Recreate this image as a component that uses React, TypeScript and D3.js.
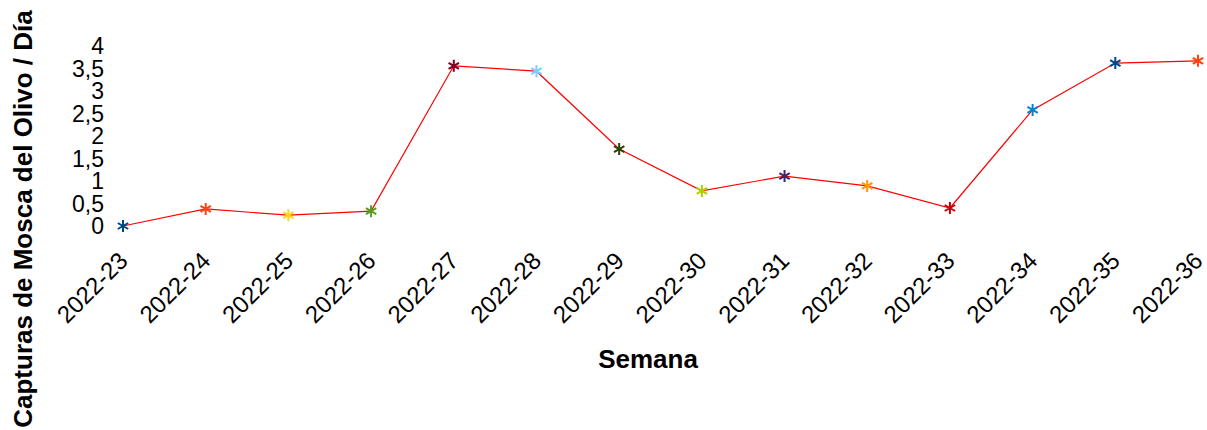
import { useEffect, useRef } from "react"
import * as d3 from "d3"

const weeks = [
  "2022-23", "2022-24", "2022-25", "2022-26", "2022-27", "2022-28", "2022-29",
  "2022-30", "2022-31", "2022-32", "2022-33", "2022-34", "2022-35", "2022-36",
]
const captures = [0, 0.38, 0.24, 0.33, 3.56, 3.44, 1.71, 0.78, 1.11, 0.89, 0.4, 2.58, 3.62, 3.67]
const markerColors = [
  "#004586", "#ff420e", "#ffd320", "#579d1c", "#7e0021", "#83caff", "#314004",
  "#aecf00", "#4b1f6f", "#ff950e", "#c5000b", "#0084d1", "#004586", "#ff420e",
]
const yTicks = [0, 0.5, 1, 1.5, 2, 2.5, 3, 3.5, 4]

export default function App() {
  const ref = useRef<SVGSVGElement>(null)

  useEffect(() => {
    const width = 1207
    const height = 430
    const svg = d3.select(ref.current)
    svg.selectAll("*").remove()
    svg.attr("width", width).attr("height", height)

    const font = "'Liberation Sans', Arial, sans-serif"

    const x = d3.scalePoint<string>().domain(weeks).range([123, 1198])
    const y = d3.scaleLinear().domain([0, 4]).range([226, 46])

    // eje Y
    svg.append("g")
      .selectAll("text")
      .data(yTicks)
      .enter()
      .append("text")
      .attr("x", 104)
      .attr("y", (d) => y(d))
      .attr("dy", "0.36em")
      .attr("text-anchor", "end")
      .attr("font-family", font)
      .attr("font-size", 23)
      .attr("fill", "#000")
      .text((d) => String(d).replace(".", ","))

    // eje X
    svg.append("g")
      .selectAll("text")
      .data(weeks)
      .enter()
      .append("text")
      .attr("transform", (d) => `translate(${x(d)! - 6},${250}) rotate(-45)`)
      .attr("text-anchor", "end")
      .attr("dy", "0.72em")
      .attr("font-family", font)
      .attr("font-size", 24)
      .attr("fill", "#000")
      .text((d) => d)

    // títulos
    svg.append("text")
      .attr("x", 648)
      .attr("y", 368)
      .attr("text-anchor", "middle")
      .attr("font-family", font)
      .attr("font-weight", "bold")
      .attr("font-size", 26)
      .text("Semana")

    svg.append("text")
      .attr("transform", `translate(32,219) rotate(-90)`)
      .attr("text-anchor", "middle")
      .attr("font-family", font)
      .attr("font-weight", "bold")
      .attr("font-size", 26)
      .text("Capturas de Mosca del Olivo / Día")

    // línea
    const line = d3.line<number>()
      .x((_, i) => x(weeks[i])!)
      .y((d) => y(d))
    svg.append("path")
      .datum(captures)
      .attr("d", line)
      .attr("fill", "none")
      .attr("stroke", "#ff0000")
      .attr("stroke-width", 1.2)

    // marcadores asterisco
    const r = 6
    const asterisk = () => {
      const dx = r * Math.cos(Math.PI / 6)
      const dy = r * Math.sin(Math.PI / 6)
      return `M0,${-r}L0,${r}M${-dx},${-dy}L${dx},${dy}M${-dx},${dy}L${dx},${-dy}`
    }
    svg.append("g")
      .selectAll("path")
      .data(captures)
      .enter()
      .append("path")
      .attr("transform", (d, i) => `translate(${x(weeks[i])},${y(d)})`)
      .attr("d", asterisk())
      .attr("fill", "none")
      .attr("stroke", (_, i) => markerColors[i])
      .attr("stroke-width", 2)
  }, [])

  return (
    <div style={{ position: "absolute", left: 0, top: 0 }}>
      <svg ref={ref} style={{ display: "block", background: "#fff" }} />
    </div>
  )
}
